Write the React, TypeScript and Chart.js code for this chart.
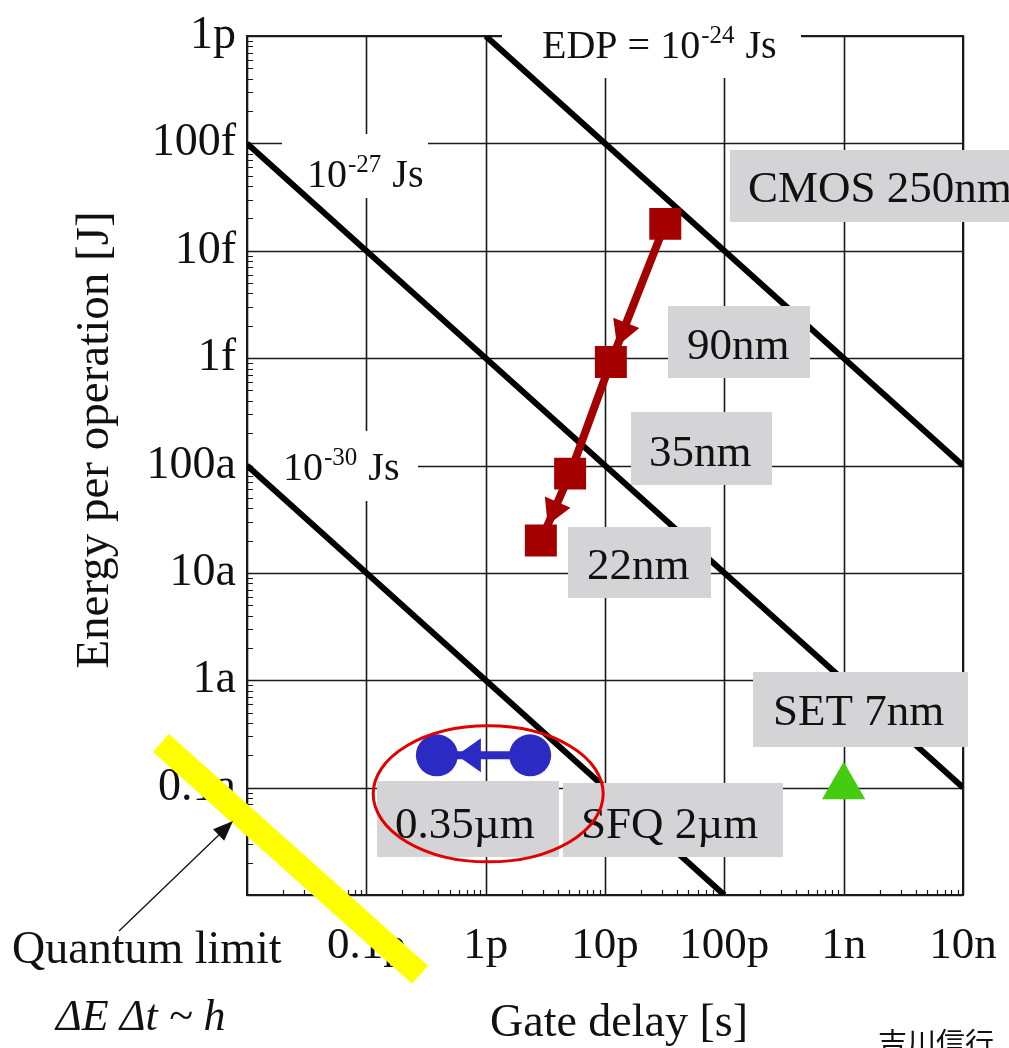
import React, { useEffect, useRef } from 'react';
import { Chart, registerables } from 'chart.js';

Chart.register(...registerables);

// ---------- data ----------
const xTickValues = [1e-14, 1e-13, 1e-12, 1e-11, 1e-10, 1e-9, 1e-8];
const xTickLabels = ['', '0.1p', '1p', '10p', '100p', '1n', '10n'];
const yTickValues = [1e-20, 1e-19, 1e-18, 1e-17, 1e-16, 1e-15, 1e-14, 1e-13, 1e-12];
const yTickLabels = ['', '0.1a', '1a', '10a', '100a', '1f', '10f', '100f', '1p'];

// constant energy-delay-product lines (end points)
const edp24Delay = [1e-12, 1e-8];
const edp24Energy = [1e-12, 1e-16];
const edp27Delay = [1e-14, 1e-8];
const edp27Energy = [1e-13, 1e-19];
const edp30Delay = [1e-14, 1e-10];
const edp30Energy = [1e-16, 1e-20];

// CMOS 250nm -> 90nm -> 35nm -> 22nm
const cmosDelay = [3.2e-11, 1.12e-11, 5.1e-12, 2.9e-12];
const cmosEnergy = [1.78e-14, 9.2e-16, 8.4e-17, 2.0e-17];

// SFQ 2um -> 0.35um
const sfqDelay = [2.36e-12, 3.9e-13];
const sfqEnergy = [2.0e-19, 2.0e-19];

// SET 7nm
const setDelay = [1e-9];
const setEnergy = [1.02e-19];

// quantum limit  dE dt ~ h
const quantumDelay = [1.9e-15, 2.82e-13];
const quantumEnergy = [2.6e-19, 1.81e-21];

// ellipse around SFQ 0.35um (center)
const ellipseDelay = 1.05e-12;
const ellipseEnergy = 8.75e-20;

const pts = (xs: number[], ys: number[]) => xs.map((x, i) => ({ x, y: ys[i] }));

const SERIF = "'Liberation Serif', 'Times New Roman', serif";
const RED = '#a50000';
const BLUE = '#2b2bc4';
const GREEN = '#44cc11';
const GRAY = '#d4d3d6';

// label boxes (annotation layout, pixels)
const grayLabels = [
  { text: 'CMOS 250nm', box: [730, 150, 290, 72], tx: 748, ty: 202 },
  { text: '90nm', box: [668, 306, 142, 72], tx: 687, ty: 359 },
  { text: '35nm', box: [631, 412, 141, 73], tx: 649, ty: 466 },
  { text: '22nm', box: [568, 527, 143, 71], tx: 587, ty: 579 },
  { text: 'SET 7nm', box: [753, 672, 215, 75], tx: 773, ty: 725 },
  { text: 'SFQ 2\u00b5m', box: [563, 783, 220, 74], tx: 581, ty: 838 },
  { text: '0.35\u00b5m', box: [377, 781, 182, 76], tx: 395, ty: 838 },
];

const whiteBoxes = [
  [502, 0, 299, 78],
  [282, 134, 146, 64],
  [253, 431, 165, 70],
];

function drawSupText(ctx: CanvasRenderingContext2D, x: number, y: number, base: string, sup: string, tail: string, size: number) {
  ctx.textAlign = 'left';
  ctx.textBaseline = 'alphabetic';
  ctx.font = `${size}px ${SERIF}`;
  ctx.fillText(base, x, y);
  let cx = x + ctx.measureText(base).width;
  const ss = Math.round(size * 0.62);
  ctx.font = `${ss}px ${SERIF}`;
  ctx.fillText(sup, cx + 1, y - size * 0.38);
  cx += ctx.measureText(sup).width + 2;
  ctx.font = `${size}px ${SERIF}`;
  ctx.fillText(tail, cx, y);
}

function arrowHead(ctx: CanvasRenderingContext2D, x0: number, y0: number, x1: number, y1: number, back: number, len: number, half: number, color: string) {
  const dx = x1 - x0, dy = y1 - y0;
  const L = Math.hypot(dx, dy);
  const ux = dx / L, uy = dy / L;
  const tx = x1 - ux * back, ty = y1 - uy * back;
  const bx = tx - ux * len, by = ty - uy * len;
  ctx.beginPath();
  ctx.moveTo(tx, ty);
  ctx.lineTo(bx - uy * half, by + ux * half);
  ctx.lineTo(bx + uy * half, by - ux * half);
  ctx.closePath();
  ctx.fillStyle = color;
  ctx.fill();
}

const RED_LINE_INDEX = 3;
const BLUE_LINE_INDEX = 5;

const decorPlugin = {
  id: 'decor',
  beforeDatasetsDraw(chart: any) {
    const { ctx, chartArea: a, scales } = chart;
    const x = scales.x, y = scales.y;
    ctx.save();
    ctx.strokeStyle = '#1a1a1a';
    ctx.lineWidth = 1.6;
    ctx.beginPath();
    xTickValues.forEach((v) => {
      const px = Math.round(x.getPixelForValue(v)) + 0.5;
      ctx.moveTo(px, a.top);
      ctx.lineTo(px, a.bottom);
    });
    yTickValues.forEach((v) => {
      const py = Math.round(y.getPixelForValue(v)) + 0.5;
      ctx.moveTo(a.left, py);
      ctx.lineTo(a.right, py);
    });
    ctx.stroke();
    // minor ticks (inward)
    ctx.lineWidth = 1.2;
    ctx.beginPath();
    for (let i = 0; i < xTickValues.length - 1; i++) {
      for (let m = 2; m <= 9; m++) {
        const px = Math.round(x.getPixelForValue(xTickValues[i] * m)) + 0.5;
        ctx.moveTo(px, a.bottom);
        ctx.lineTo(px, a.bottom - 5);
      }
    }
    for (let i = 0; i < yTickValues.length - 1; i++) {
      for (let m = 2; m <= 9; m++) {
        const py = Math.round(y.getPixelForValue(yTickValues[i] * m)) + 0.5;
        ctx.moveTo(a.left, py);
        ctx.lineTo(a.left + 6, py);
      }
    }
    ctx.stroke();
    // frame
    ctx.lineWidth = 2;
    ctx.strokeRect(a.left, a.top, a.right - a.left, a.bottom - a.top);
    // white label boxes
    ctx.fillStyle = '#ffffff';
    whiteBoxes.forEach(([bx, by, bw, bh]) => ctx.fillRect(bx, by, bw, bh));
    ctx.fillStyle = '#111';
    drawSupText(ctx, 542, 58, 'EDP = 10', '-24', ' Js', 40);
    drawSupText(ctx, 307, 187, '10', '-27', ' Js', 40);
    drawSupText(ctx, 283, 480, '10', '-30', ' Js', 40);
    ctx.restore();
  },
  afterDatasetDraw(chart: any, args: any) {
    const { ctx, scales } = chart;
    const x = scales.x, y = scales.y;
    if (args.index === RED_LINE_INDEX) {
      ctx.save();
      [0, 2].forEach((i) => {
        const x0 = x.getPixelForValue(cmosDelay[i]), y0 = y.getPixelForValue(cmosEnergy[i]);
        const x1 = x.getPixelForValue(cmosDelay[i + 1]), y1 = y.getPixelForValue(cmosEnergy[i + 1]);
        arrowHead(ctx, x0, y0, x1, y1, 17, 25, 14, RED);
      });
      ctx.restore();
    }
    if (args.index === BLUE_LINE_INDEX) {
      ctx.save();
      const x0 = x.getPixelForValue(sfqDelay[0]), y0 = y.getPixelForValue(sfqEnergy[0]);
      const x1 = x.getPixelForValue(sfqDelay[1]), y1 = y.getPixelForValue(sfqEnergy[1]);
      arrowHead(ctx, x0, y0, x1, y1, 20, 24, 17, BLUE);
      ctx.restore();
    }
  },
  afterDatasetsDraw(chart: any) {
    const { ctx, scales } = chart;
    const x = scales.x, y = scales.y;
    ctx.save();
    grayLabels.forEach((l) => {
      const [bx, by, bw, bh] = l.box;
      ctx.fillStyle = GRAY;
      ctx.fillRect(bx, by, bw, bh);
      ctx.fillStyle = '#111';
      ctx.font = `45px ${SERIF}`;
      ctx.textAlign = 'left';
      ctx.textBaseline = 'alphabetic';
      ctx.fillText(l.text, l.tx, l.ty);
    });
    // red ellipse
    ctx.strokeStyle = '#e00000';
    ctx.lineWidth = 3;
    ctx.beginPath();
    ctx.ellipse(x.getPixelForValue(ellipseDelay), y.getPixelForValue(ellipseEnergy), 115, 68, 0, 0, Math.PI * 2);
    ctx.stroke();
    ctx.restore();
  },
  afterDraw(chart: any) {
    const { ctx } = chart;
    ctx.save();
    ctx.fillStyle = '#111';
    ctx.font = `46px ${SERIF}`;
    ctx.textAlign = 'center';
    ctx.textBaseline = 'alphabetic';
    ctx.fillText('Gate delay [s]', 619, 1036);
    ctx.save();
    ctx.translate(108, 440);
    ctx.rotate(-Math.PI / 2);
    ctx.font = `47px ${SERIF}`;
    ctx.fillText('Energy per operation [J]', 0, 0);
    ctx.restore();
    ctx.textAlign = 'left';
    ctx.fillText('Quantum limit', 12, 963);
    ctx.font = `italic 44px ${SERIF}`;
    ctx.fillText('\u0394E \u0394t ~ h', 56, 1030);
    // annotation arrow
    ctx.strokeStyle = '#111';
    ctx.lineWidth = 1.3;
    ctx.beginPath();
    ctx.moveTo(119, 931);
    ctx.lineTo(222, 832);
    ctx.stroke();
    arrowHead(ctx, 119, 931, 233, 821, 0, 20, 8, '#111');
    ctx.font = `29px 'Noto Sans CJK JP', sans-serif`;
    ctx.textBaseline = 'top';
    ctx.fillText('\u5409\u5ddd\u4fe1\u884c', 878, 1028);
    ctx.restore();
  },
};

export default function App() {
  const ref = useRef<HTMLCanvasElement>(null);
  useEffect(() => {
    const blackLine = (xs: number[], ys: number[]) => ({
      data: pts(xs, ys),
      showLine: true,
      borderColor: '#000',
      borderWidth: 6,
      pointRadius: 0,
      borderCapStyle: 'butt',
      order: 10,
    });
    const chart = new Chart(ref.current!, {
      type: 'scatter',
      data: {
        datasets: [
          blackLine(edp24Delay, edp24Energy),
          blackLine(edp27Delay, edp27Energy),
          blackLine(edp30Delay, edp30Energy),
          {
            data: pts(cmosDelay, cmosEnergy),
            showLine: true,
            borderColor: RED,
            borderWidth: 8,
            pointRadius: 0,
            order: 7,
          },
          {
            data: pts(cmosDelay, cmosEnergy),
            showLine: false,
            pointStyle: 'rect',
            pointRadius: 22.6,
            backgroundColor: RED,
            borderColor: RED,
            borderWidth: 0,
            order: 6,
          },
          {
            data: pts(sfqDelay, sfqEnergy),
            showLine: true,
            borderColor: BLUE,
            borderWidth: 8,
            pointRadius: 0,
            order: 5,
          },
          {
            data: pts(sfqDelay, sfqEnergy),
            showLine: false,
            pointStyle: 'circle',
            pointRadius: 21,
            backgroundColor: BLUE,
            borderColor: BLUE,
            borderWidth: 0,
            order: 4,
          },
          {
            data: pts(setDelay, setEnergy),
            showLine: false,
            pointStyle: 'triangle',
            pointRadius: 25,
            backgroundColor: GREEN,
            borderColor: GREEN,
            borderWidth: 0,
            order: 3,
          },
          {
            data: pts(quantumDelay, quantumEnergy),
            showLine: true,
            borderColor: '#ffff00',
            borderWidth: 24,
            borderCapStyle: 'butt',
            pointRadius: 0,
            clip: false,
            order: 1,
          },
        ] as any,
      },
      options: {
        responsive: false,
        animation: false,
        devicePixelRatio: 1,
        events: [],
        layout: { padding: { left: 0, top: 36, right: 46, bottom: 0 } },
        plugins: { legend: { display: false }, tooltip: { enabled: false } },
        scales: {
          x: {
            type: 'logarithmic',
            min: 1e-14,
            max: 1e-8,
            grid: { display: false },
            border: { display: false },
            afterBuildTicks: (s: any) => {
              s.ticks = xTickValues.map((v) => ({ value: v }));
            },
            afterFit: (s: any) => {
              s.height = 1048 - 895;
              s.paddingLeft = 0;
              s.paddingRight = 0;
            },
            ticks: {
              autoSkip: false,
              maxRotation: 0,
              padding: 16,
              color: '#111',
              font: { family: SERIF, size: 45 },
              callback: (_v: any, i: number) => xTickLabels[i],
            },
          },
          y: {
            type: 'logarithmic',
            min: 1e-20,
            max: 1e-12,
            grid: { display: false },
            border: { display: false },
            afterBuildTicks: (s: any) => {
              s.ticks = yTickValues.map((v) => ({ value: v }));
            },
            afterFit: (s: any) => {
              s.width = 247;
              s.paddingTop = 0;
              s.paddingBottom = 0;
            },
            ticks: {
              autoSkip: false,
              padding: 3,
              color: '#111',
              font: { family: SERIF, size: 46 },
              callback: (_v: any, i: number) => yTickLabels[i],
            },
          },
        },
      } as any,
      plugins: [decorPlugin],
    });
    return () => chart.destroy();
  }, []);
  return (
    <div style={{ position: 'absolute', left: 0, top: 0, width: 1009, height: 1048, background: '#fff', overflow: 'hidden' }}>
      <canvas ref={ref} width={1009} height={1048} style={{ display: 'block', width: 1009, height: 1048 }} />
    </div>
  );
}
